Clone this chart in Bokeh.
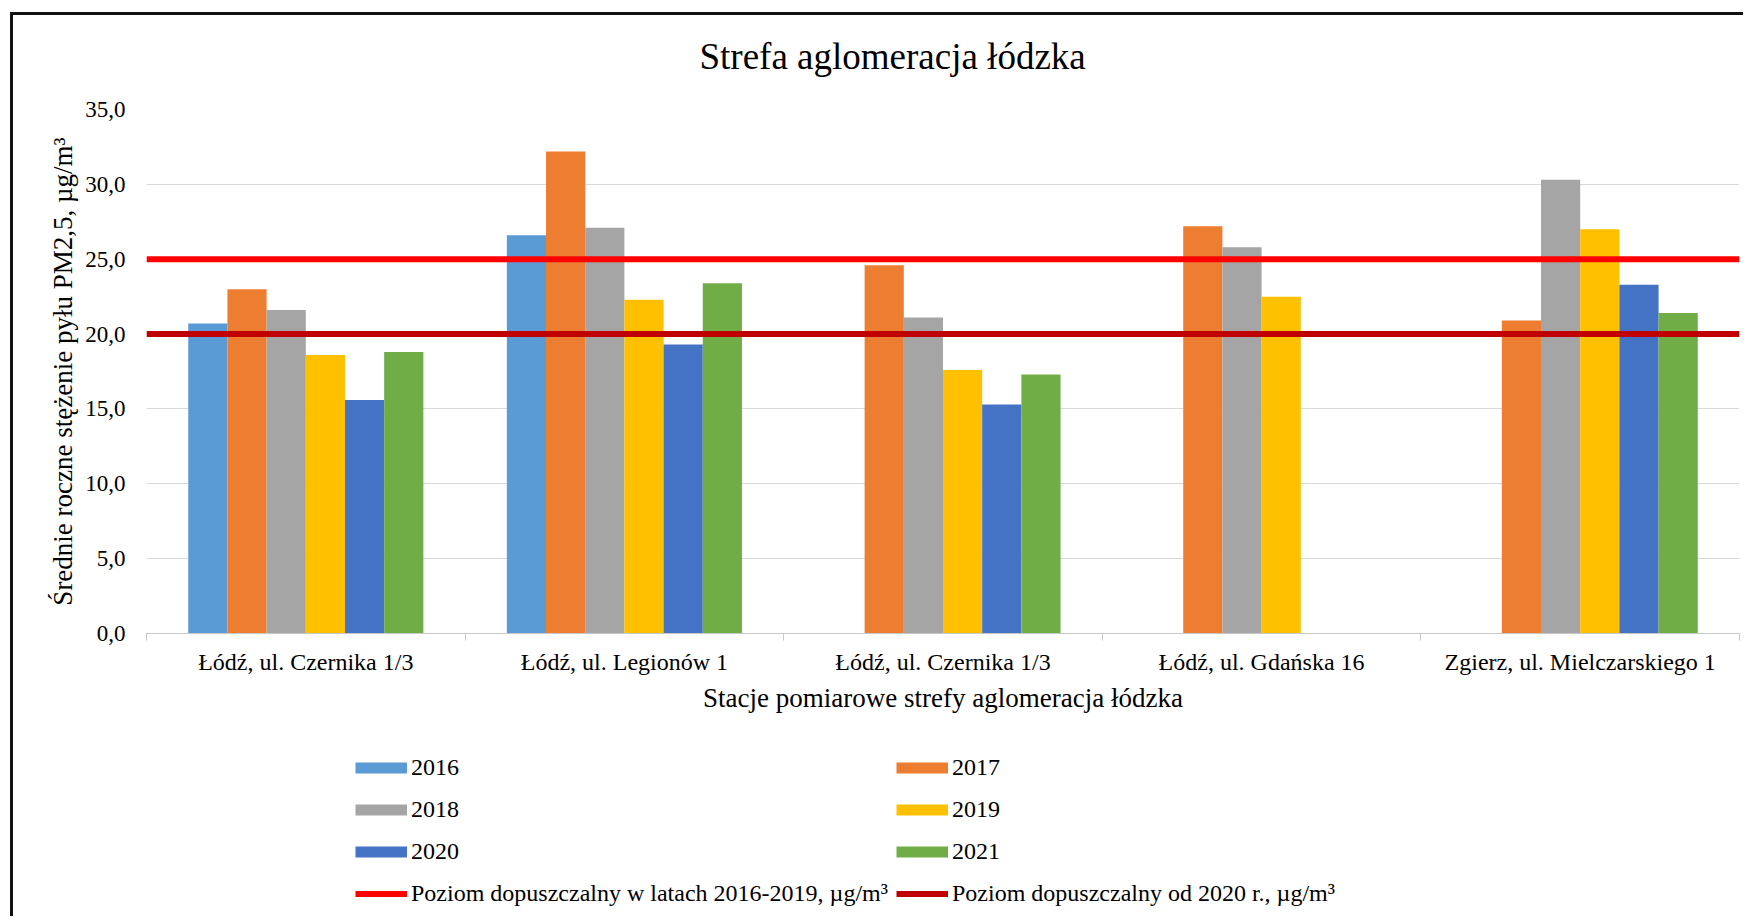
import math
from bokeh.plotting import figure
from bokeh.layouts import column
from bokeh.models import Range1d, FixedTicker, Legend, LegendItem, ColumnDataSource
from bokeh.embed import file_html
from bokeh.resources import INLINE

# ---------------- data ----------------
stations = [
    "Łódź, ul. Czernika 1/3",
    "Łódź, ul. Legionów 1",
    "Łódź, ul. Czernika 1/3",
    "Łódź, ul. Gdańska 16",
    "Zgierz, ul. Mielczarskiego 1",
]
years = ["2016", "2017", "2018", "2019", "2020", "2021"]
nan = float("nan")
v2016 = [20.7, 26.6, nan, nan, nan]
v2017 = [23.0, 32.2, 24.6, 27.2, 20.9]
v2018 = [21.6, 27.1, 21.1, 25.8, 30.3]
v2019 = [18.6, 22.3, 17.6, 22.5, 27.0]
v2020 = [15.6, 19.3, 15.3, nan, 23.3]
v2021 = [18.8, 23.4, 17.3, nan, 21.4]
series = [v2016, v2017, v2018, v2019, v2020, v2021]

limit_names = ["Poziom dopuszczalny w latach 2016-2019, µg/m³",
               "Poziom dopuszczalny od 2020 r., µg/m³"]
limit_values = [25.0, 20.0]

y_ticks = [0, 5, 10, 15, 20, 25, 30, 35]

title_text = "Strefa aglomeracja łódzka"
x_title = "Stacje pomiarowe strefy aglomeracja łódzka"
y_title = "Średnie roczne stężenie pyłu PM2,5, µg/m³"

# ---------------- style ----------------
bar_colors = ["#5B9BD5", "#ED7D31", "#A5A5A5", "#FFC000", "#4472C4", "#70AD47"]
limit_colors = ["#FF0000", "#C00000"]
FONT = "Liberation Serif"
bar_w = 0.123
W = 1743

p = figure(width=W, height=740, output_backend="svg", toolbar_location=None,
           x_range=Range1d(0, len(stations)), y_range=Range1d(0, 35),
           min_border_left=146, min_border_right=4, min_border_top=109,
           min_border_bottom=107)
p.border_fill_color = None
p.background_fill_color = "#FFFFFF"
p.outline_line_color = None
p.styles = {
    "background": "linear-gradient(#111,#111) 10px 12px / 3px calc(100% - 12px) no-repeat, "
                  "linear-gradient(#111,#111) 10px 12px / calc(100% - 10px) 3px no-repeat, #FFFFFF"
}

# title
p.title.text = title_text
p.title.text_font = FONT
p.title.text_font_size = "37px"
p.title.text_font_style = "normal"
p.title.text_color = "#000000"
p.title.align = "left"
p.title.offset = 553
p.title.standoff = 65

# bars
for k, (yr, vals) in enumerate(zip(years, series)):
    xs, tops = [], []
    for i, v in enumerate(vals):
        if not math.isnan(v):
            xs.append(i + 0.5 + (k - 2.5) * bar_w)
            tops.append(v)
    src = ColumnDataSource(dict(x=xs, top=tops))
    p.vbar(x="x", top="top", bottom=0, width=bar_w, source=src,
           fill_color=bar_colors[k], line_color=None)

# limit lines
for name, val, col in zip(limit_names, limit_values, limit_colors):
    p.line(x=[p.x_range.start, p.x_range.end], y=[val, val],
           line_color=col, line_width=6)

# axes
xa = p.xaxis[0]
xa.ticker = FixedTicker(ticks=[i + 0.5 for i in range(len(stations))],
                        minor_ticks=list(range(len(stations) + 1)))
xa.major_label_overrides = {i + 0.5: s for i, s in enumerate(stations)}
xa.major_tick_line_color = None
xa.major_tick_out = 0
xa.major_tick_in = 0
xa.minor_tick_out = 7
xa.minor_tick_in = 0
xa.minor_tick_line_color = "#C8C8C8"
xa.axis_line_color = "#C8C8C8"
xa.axis_line_width = 1
xa.major_label_text_font = FONT
xa.major_label_text_font_size = "24px"
xa.major_label_text_color = "#000000"
xa.major_label_standoff = 8
xa.axis_label = x_title
xa.axis_label_text_font = FONT
xa.axis_label_text_font_size = "27px"
xa.axis_label_text_font_style = "normal"
xa.axis_label_text_color = "#000000"
xa.axis_label_standoff = 5

ya = p.yaxis[0]
ya.ticker = FixedTicker(ticks=y_ticks)
ya.major_label_overrides = {t: f"{t:.1f}".replace(".", ",") for t in y_ticks}
ya.axis_line_color = None
ya.major_tick_line_color = None
ya.minor_tick_line_color = None
ya.major_tick_out = 0
ya.major_tick_in = 0
ya.major_label_standoff = 21
ya.major_label_text_font = FONT
ya.major_label_text_font_size = "23px"
ya.major_label_text_color = "#000000"
ya.axis_label = y_title
ya.axis_label_text_font = FONT
ya.axis_label_text_font_size = "27px"
ya.axis_label_text_font_style = "normal"
ya.axis_label_text_color = "#000000"
ya.axis_label_standoff = 4

p.xgrid.grid_line_color = None
p.ygrid.grid_line_color = "#D9D9D9"
p.ygrid.grid_line_width = 1
p.ygrid.ticker = FixedTicker(ticks=y_ticks)

# ---------------- legend panel (separate figure below) ----------------
lf = figure(width=W, height=176, output_backend="svg", toolbar_location=None,
            x_range=Range1d(0, 1), y_range=Range1d(0, 1),
            x_axis_type=None, y_axis_type=None,
            min_border_left=0, min_border_right=0, min_border_top=0,
            min_border_bottom=0)
lf.border_fill_color = None
lf.background_fill_color = None
lf.outline_line_color = None
lf.xgrid.visible = False
lf.ygrid.visible = False
lf.styles = {
    "background": "linear-gradient(#111,#111) 10px 0px / 3px 100% no-repeat, #FFFFFF"
}

# swatch renderers (not visible in the frame: NaN y values)
swatches = []
for k in range(len(years)):
    swatches.append(lf.line(x=[0, 1], y=[nan, nan], line_color=bar_colors[k],
                            line_width=11, line_cap="butt"))
limit_sw = []
for col in limit_colors:
    limit_sw.append(lf.line(x=[0, 1], y=[nan, nan], line_color=col,
                            line_width=6, line_cap="butt"))

col1 = [LegendItem(label=years[0], renderers=[swatches[0]]),
        LegendItem(label=years[2], renderers=[swatches[2]]),
        LegendItem(label=years[4], renderers=[swatches[4]]),
        LegendItem(label=limit_names[0], renderers=[limit_sw[0]])]
col2 = [LegendItem(label=years[1], renderers=[swatches[1]]),
        LegendItem(label=years[3], renderers=[swatches[3]]),
        LegendItem(label=years[5], renderers=[swatches[5]]),
        LegendItem(label=limit_names[1], renderers=[limit_sw[1]])]

for items, vx in ((col1, 209), (col2, 750)):
    lg = Legend(items=items, location=(vx, 9), orientation="vertical")
    lg.padding = 0
    lg.margin = 0
    lg.spacing = 15
    lg.glyph_width = 52
    lg.glyph_height = 27
    lg.label_height = 27
    lg.label_standoff = 4
    lg.label_text_font = FONT
    lg.label_text_font_size = "24px"
    lg.label_text_color = "#000000"
    lg.border_line_color = None
    lg.background_fill_alpha = 0
    lg.click_policy = "none"
    lf.add_layout(lg, "center")

layout = column(p, lf, spacing=0)
open("out.html", "w").write(file_html(layout, INLINE))
